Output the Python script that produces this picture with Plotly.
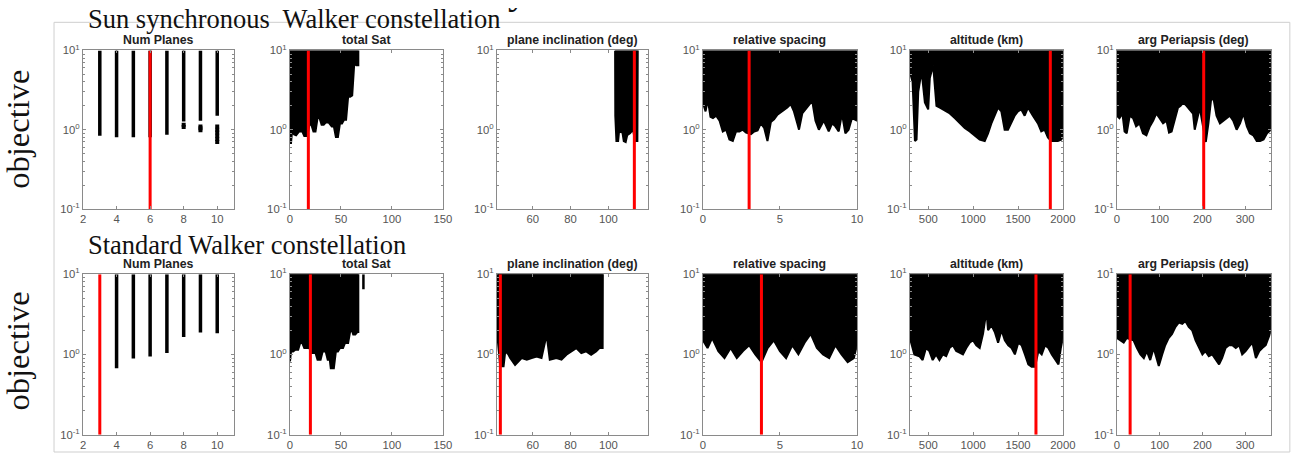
import plotly.graph_objects as go

# ---------------- data ----------------
panel_titles = ["Num Planes", "total Sat", "plane inclination (deg)",
                "relative spacing", "altitude (km)", "arg Periapsis (deg)"]
x_ranges = [[2, 11], [0, 150], [41, 121], [0, 10], [295, 2000], [0, 360]]
x_tickvals = [[2, 4, 6, 8, 10], [0, 50, 100, 150], [60, 80, 100],
              [0, 5, 10], [500, 1000, 1500, 2000], [0, 100, 200, 300]]
y_tickvals = [0.1, 1, 10]
y_ticktext = ["10<sup>-1</sup>", "10<sup>0</sup>", "10<sup>1</sup>"]

# --- Sun synchronous Walker constellation (row 1) ---
ss_planes_x = [3, 4, 5, 6, 7, 8, 9, 10]
ss_planes_min = [0.84, 0.80, 0.80, 0.80, 0.86, 1.27, 1.30, 1.50]
ss_planes_dots_x = [8, 8, 9, 9, 9, 10, 10, 10, 10, 10, 10]
ss_planes_dots_y = [1.15, 1.08, 1.10, 1.04, 0.98, 1.10, 1.0, 0.92, 0.84, 0.76, 0.70]

ss_sat_x = [0, 1, 2, 4, 6, 9, 12, 14, 17, 19, 21, 23, 25, 27, 29, 31, 33, 35,
            38, 41, 43, 45, 47, 49, 51, 53, 55, 57, 59, 61, 63, 65, 67]
ss_sat_min = [0.68, 0.68, 0.95, 0.87, 0.85, 0.95, 0.95, 0.83, 0.83, 1.15, 1.15,
              0.95, 0.95, 1.4, 1.4, 1.15, 1.15, 1.23, 1.23, 1.1, 1.1, 0.81, 0.81,
              1.2, 1.2, 1.33, 1.33, 2.6, 2.6, 2.7, 6.8, 6.5, 6.5]

ss_inc_x = [103.6, 103.7, 104.3, 105.2, 105.7, 107.5, 108.2, 109.2, 110.0,
            111.5, 113.1, 114.2, 115.4, 115.6]
ss_inc_min = [10, 1.5, 0.72, 0.72, 0.95, 0.92, 0.72, 0.70, 0.85, 0.90, 1.0,
              0.72, 0.72, 10]

ss_rs_x = [0.0, 0.06, 0.17, 0.32, 0.49, 0.65, 0.86, 1.08, 1.29, 1.51, 1.72, 1.94,
           2.15, 2.37, 2.58, 2.80, 3.12, 3.33, 3.55, 3.76, 3.98, 4.19, 4.41,
           4.62, 4.84, 5.05, 5.27, 5.48, 5.70, 5.91, 6.13, 6.24, 6.45, 6.77,
           7.10, 7.31, 7.53, 7.85, 8.17, 8.39, 8.60, 8.82, 9.03, 9.25, 9.46,
           9.68, 10.0]
ss_rs_min = [2.0, 2.0, 1.7, 2.4, 1.45, 1.4, 1.5, 1.3, 0.95, 1.0, 0.75, 0.72,
             0.95, 0.95, 1.0, 0.92, 0.88, 0.95, 0.98, 1.2, 1.05, 0.72, 1.25,
             1.35, 1.55, 1.65, 1.8, 1.9, 2.1, 1.7, 1.2, 1.0, 1.6, 1.9, 2.3,
             1.3, 1.0, 1.3, 0.95, 1.2, 1.1, 0.95, 1.6, 0.9, 1.0, 1.4, 1.3]

ss_alt_x = [295, 302, 325, 351, 369, 388, 425, 462, 499, 517, 554, 591, 629,
            684, 740, 795, 851, 906, 962, 1018, 1073, 1129, 1166, 1203, 1240,
            1277, 1314, 1351, 1388, 1425, 1462, 1499, 1537, 1574, 1611, 1666,
            1722, 1759, 1796, 1833, 1870, 1907, 1944, 1981, 2000]
ss_alt_min = [5.0, 5.0, 4.0, 0.72, 0.75, 3.0, 5.5, 2.2, 1.8, 4.5, 6.5, 2.0, 1.9,
              1.75, 1.6, 1.4, 1.2, 1.05, 0.95, 0.85, 0.75, 0.72, 0.9, 1.2, 1.5,
              1.9, 1.7, 1.0, 1.0, 1.2, 1.5, 1.7, 1.8, 1.5, 1.9, 1.5, 1.2, 0.95,
              1.0, 0.8, 0.72, 0.72, 0.72, 0.75, 0.8]

ss_aop_x = [0, 6, 13, 18, 23, 30, 38, 45, 53, 61, 69, 77, 85, 92, 100, 108, 116,
            122, 128, 135, 143, 149, 155, 163, 171, 178, 182, 190, 194, 198,
            208, 214, 221, 227, 233, 241, 249, 257, 264, 272, 280, 288, 296,
            304, 311, 319, 327, 335, 343, 351, 360]
ss_aop_min = [1.5, 1.4, 1.6, 0.95, 0.9, 1.5, 1.4, 1.1, 1.2, 0.9, 0.85, 1.1, 1.3,
              1.6, 1.4, 1.2, 1.3, 0.92, 0.95, 1.3, 1.9, 2.0, 2.2, 2.0, 1.8, 1.6,
              1.0, 1.6, 1.9, 1.4, 0.7, 1.2, 2.6, 2.3, 1.5, 1.2, 1.3, 1.4, 1.5,
              1.3, 1.0, 1.2, 1.6, 1.1, 0.9, 0.85, 0.72, 0.72, 0.75, 0.9, 1.0]

ss_best = [6, 18, 113.8, 3.0, 1860, 203]

# --- Standard Walker constellation (row 2) ---
sw_planes_x = [4, 5, 6, 7, 8, 9, 10]
sw_planes_min = [0.67, 0.89, 0.94, 1.04, 1.65, 1.88, 1.83]
sw_planes_dots_x = []
sw_planes_dots_y = []

sw_sat_x = [0, 1, 3, 5, 8, 10, 12, 14, 17, 19, 21, 25, 27, 30, 32, 35, 37, 39,
            40, 43, 45, 47, 49, 52, 54, 57, 59, 61, 62, 64, 66, 67]
sw_sat_min = [0.82, 1.09, 1.09, 1.14, 1.14, 1.39, 1.39, 1.2, 1.2, 1.2, 1.04,
              1.04, 0.86, 0.86, 1.09, 1.09, 0.86, 0.86, 0.67, 0.67, 1.09, 1.09,
              1.2, 1.2, 1.39, 1.39, 1.94, 1.94, 1.77, 1.77, 1.9, 1.9]
sw_sat_dots_x = [72]
sw_sat_dots_y = [6.5]

sw_inc_x = [41.35, 41.5, 42.75, 44.5, 45.4, 47.0, 48.0, 50.6, 54.1, 56.8, 59.4,
            62.0, 64.6, 67.3, 69.0, 72.5, 75.2, 77.8, 80.4, 83.0, 85.7, 88.3,
            90.9, 93.5, 95.3, 97.0, 97.1]
sw_inc_min = [10, 1.45, 0.71, 0.71, 1.09, 1.0, 0.9, 0.74, 0.9, 0.86, 0.9, 0.94,
              0.9, 1.76, 0.86, 0.9, 0.86, 0.99, 1.09, 1.2, 1.04, 1.09, 0.99,
              1.09, 1.2, 1.2, 10]

sw_rs_x = [0.0, 0.3, 0.6, 1.0, 1.4, 1.8, 2.2, 2.6, 3.0, 3.4, 3.8, 4.2, 4.6, 5.0,
           5.4, 5.8, 6.2, 6.6, 7.0, 7.4, 7.8, 8.2, 8.6, 9.0, 9.4, 9.8, 10.0]
sw_rs_min = [1.5, 1.2, 1.6, 1.1, 0.9, 1.2, 0.9, 1.1, 1.3, 1.0, 0.8, 1.2, 1.5,
             1.1, 0.9, 1.3, 1.0, 1.4, 1.8, 1.2, 1.0, 0.9, 1.3, 1.0, 0.8, 0.9, 1.3]

sw_alt_x = [295, 344, 400, 437, 474, 512, 549, 587, 624, 661, 699, 736, 774, 811,
            848, 886, 923, 961, 998, 1035, 1073, 1110, 1148, 1166, 1204, 1241,
            1278, 1316, 1353, 1391, 1428, 1465, 1503, 1540, 1577, 1615, 1652,
            1690, 1727, 1764, 1802, 1839, 1877, 1914, 1951, 1977, 2000]
sw_alt_min = [1.6, 1.0, 0.95, 0.85, 1.2, 1.1, 0.85, 1.0, 0.85, 1.0, 0.95, 1.2,
              1.3, 1.1, 1.05, 1.0, 1.2, 1.4, 1.5, 1.3, 1.2, 1.8, 3.5, 2.0, 2.3,
              1.9, 1.4, 2.0, 1.5, 1.3, 1.2, 1.0, 1.4, 1.3, 1.0, 0.75, 0.7, 0.7,
              1.1, 1.0, 1.3, 1.2, 1.0, 0.85, 0.75, 1.2, 1.6]

sw_aop_x = [0, 8, 16, 23, 39, 47, 55, 63, 70, 78, 86, 94, 98, 106, 113, 121, 129,
            137, 145, 153, 160, 168, 176, 184, 192, 200, 207, 215, 223, 231,
            239, 246, 254, 262, 270, 278, 286, 293, 301, 309, 317, 325, 333,
            340, 348, 356, 360]
sw_aop_min = [1.6, 1.5, 1.4, 1.6, 1.5, 1.2, 1.0, 0.9, 1.1, 0.85, 1.2, 0.85, 0.72,
              1.0, 1.3, 1.6, 1.8, 2.2, 2.5, 2.4, 2.6, 2.2, 2.0, 1.5, 1.2, 1.0,
              1.1, 0.95, 1.0, 0.85, 0.75, 0.9, 1.2, 1.3, 1.3, 1.2, 1.3, 1.0, 1.1,
              1.25, 1.4, 0.9, 1.1, 1.2, 1.3, 1.7, 2.0]

sw_best = [3, 20, 42.8, 3.8, 1700, 31]

top_title = "Many Satellite constellations"

rows = [
    dict(planes=(ss_planes_x, ss_planes_min, ss_planes_dots_x, ss_planes_dots_y),
         clouds=[(ss_sat_x, ss_sat_min), (ss_inc_x, ss_inc_min), (ss_rs_x, ss_rs_min),
                 (ss_alt_x, ss_alt_min), (ss_aop_x, ss_aop_min)],
         extra_sat=([], []), best=ss_best),
    dict(planes=(sw_planes_x, sw_planes_min, sw_planes_dots_x, sw_planes_dots_y),
         clouds=[(sw_sat_x, sw_sat_min), (sw_inc_x, sw_inc_min), (sw_rs_x, sw_rs_min),
                 (sw_alt_x, sw_alt_min), (sw_aop_x, sw_aop_min)],
         extra_sat=(sw_sat_dots_x, sw_sat_dots_y), best=sw_best),
]

# ---------------- layout geometry ----------------
W, H = 1307, 458
PAD_L, PAD_T, PAD_X, PAD_Y = 3, 8, 16, 16      # photo frame around the page
KX = W / (W + PAD_X)
KY = H / (H + PAD_Y)


def px_x(xr):
    """target picture x (px) -> paper fraction"""
    return (xr / KX - PAD_L) / W


def px_y(yr):
    """target picture y (px, from top) -> paper fraction"""
    return 1 - (yr / KY - PAD_T) / H


col_px = [(83, 234), (290, 443), (497, 648), (703, 857), (910, 1063), (1117, 1271)]
row_px = [(50, 208), (273, 433)]
Y_TOP = 10

fig = go.Figure()
layout = dict(width=W, height=H, margin=dict(l=0, r=0, t=0, b=0),
              paper_bgcolor="white", plot_bgcolor="white", showlegend=False)

axis_grey = "#8a8a8a"
tick_font = dict(family="Liberation Sans, Arial, sans-serif", size=11.3, color="#555555")
minor_vals = [0.2, 0.3, 0.4, 0.5, 0.6, 0.7, 0.8, 0.9, 2, 3, 4, 5, 6, 7, 8, 9]

annotations = []
for r, (yt, yb) in enumerate(row_px):
    for c, (xl, xr) in enumerate(col_px):
        k = r * 6 + c + 1
        sfx = "" if k == 1 else str(k)
        layout["xaxis" + sfx] = dict(
            domain=[px_x(xl), px_x(xr)], anchor="y" + sfx, range=x_ranges[c],
            tickvals=x_tickvals[c], ticks="inside", ticklen=3, mirror="allticks",
            showline=True, linecolor=axis_grey, linewidth=1, tickcolor=axis_grey,
            showgrid=False, zeroline=False, tickfont=tick_font)
        layout["yaxis" + sfx] = dict(
            domain=[px_y(yb), px_y(yt)], anchor="x" + sfx, type="log",
            range=[-1, 1], tickvals=y_tickvals, ticktext=y_ticktext,
            ticks="inside", ticklen=3, mirror="allticks", showline=True,
            linecolor=axis_grey, linewidth=1, tickcolor=axis_grey,
            showgrid=False, zeroline=False, tickfont=tick_font,
            minor=dict(tickvals=minor_vals, ticks="inside", ticklen=2,
                       tickcolor=axis_grey, showgrid=False))
        annotations.append(dict(
            text="<b>" + panel_titles[c] + "</b>", xref="paper", yref="paper",
            x=px_x((xl + xr) / 2), y=px_y(yt - 1), xanchor="center",
            yanchor="bottom", showarrow=False,
            font=dict(family="Liberation Sans, Arial, sans-serif", size=12.3,
                      color="#222222")))

        xa, ya = "x" + sfx, "y" + sfx
        data = rows[r]
        if c == 0:
            px_, pmin, dx, dy = data["planes"]
            xs, ys = [], []
            for xv, mv in zip(px_, pmin):
                xs += [xv, xv, None]
                ys += [mv, Y_TOP, None]
            fig.add_trace(go.Scatter(x=xs, y=ys, mode="lines", xaxis=xa, yaxis=ya,
                                     line=dict(color="black", width=3.5),
                                     hoverinfo="skip"))
            if dx:
                fig.add_trace(go.Scatter(x=dx, y=dy, mode="markers", xaxis=xa,
                                         yaxis=ya, marker=dict(color="black",
                                                               size=4, symbol="square"),
                                         hoverinfo="skip"))
        else:
            cx, cmin = data["clouds"][c - 1]
            poly_x = list(cx) + [cx[-1], cx[0], cx[0]]
            poly_y = list(cmin) + [Y_TOP, Y_TOP, cmin[0]]
            fig.add_trace(go.Scatter(x=poly_x, y=poly_y, mode="lines", fill="toself",
                                     fillcolor="black", xaxis=xa, yaxis=ya,
                                     line=dict(color="black", width=2),
                                     hoverinfo="skip"))
            if c == 1 and data["extra_sat"][0]:
                ex, ey = data["extra_sat"]
                xs, ys = [], []
                for xv, mv in zip(ex, ey):
                    xs += [xv, xv, None]
                    ys += [mv, Y_TOP, None]
                fig.add_trace(go.Scatter(x=xs, y=ys, mode="lines", xaxis=xa, yaxis=ya,
                                         line=dict(color="black", width=2.5),
                                         hoverinfo="skip"))
        bv = data["best"][c]
        fig.add_trace(go.Scatter(x=[bv, bv], y=[0.1, Y_TOP], mode="lines",
                                 xaxis=xa, yaxis=ya,
                                 line=dict(color="#ff0000", width=3),
                                 hoverinfo="skip"))

serif = "Liberation Serif, Times New Roman, serif"

# thin strip at the very top holding the cut-off main title, clipped to the strip
layout["xaxis13"] = dict(domain=[0, 1], anchor="y13", range=[0, W], visible=False)
layout["yaxis13"] = dict(domain=[1 - 4 / H, 1], anchor="x13", range=[4, 0],
                         visible=False)
fig.add_trace(go.Scatter(x=[px_x(667) * W], y=[-16], mode="text", text=[top_title],
                         textposition="middle center", cliponaxis=True,
                         xaxis="x13", yaxis="y13", hoverinfo="skip",
                         textfont=dict(family=serif, size=40, color="#111111")))

annotations += [
    dict(text="Sun synchronous  Walker constellation", xref="paper", yref="paper",
         x=px_x(86), y=px_y(19), xanchor="left", yanchor="middle", showarrow=False,
         font=dict(family=serif, size=26.5, color="#111111")),
    dict(text="Standard Walker constellation", xref="paper", yref="paper",
         x=px_x(86), y=px_y(244), xanchor="left", yanchor="middle", showarrow=False,
         font=dict(family=serif, size=26.5, color="#111111")),
    dict(text="objective", xref="paper", yref="paper", x=px_x(18), y=px_y(129),
         xanchor="center", yanchor="middle", textangle=-90, showarrow=False,
         font=dict(family=serif, size=32.5, color="#111111")),
    dict(text="objective", xref="paper", yref="paper", x=px_x(18), y=px_y(350),
         xanchor="center", yanchor="middle", textangle=-90, showarrow=False,
         font=dict(family=serif, size=32.5, color="#111111")),
]
layout["annotations"] = annotations
layout["shapes"] = [dict(type="rect", xref="paper", yref="paper", x0=px_x(54),
                         x1=px_x(1290), y0=0, y1=px_y(22), layer="below",
                         line=dict(color="#cfcfcf", width=1))]
fig.update_layout(**layout)
fig.write_html("out.html", config={"displayModeBar": False},
               post_script="document.body.style.margin='0';"
                           "document.body.style.overflow='hidden';")
